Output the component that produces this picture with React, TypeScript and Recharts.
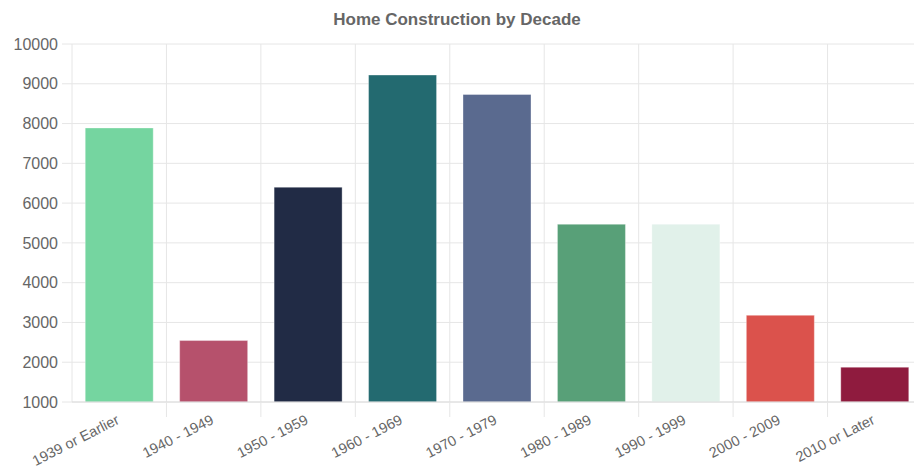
import { BarChart, Bar, XAxis, YAxis, CartesianGrid, Cell } from "recharts";

const decades = [
  "1939 or Earlier",
  "1940 - 1949",
  "1950 - 1959",
  "1960 - 1969",
  "1970 - 1979",
  "1980 - 1989",
  "1990 - 1999",
  "2000 - 2009",
  "2010 or Later",
];
const homesBuilt = [7890, 2545, 6400, 9220, 8730, 5470, 5470, 3180, 1875];
const barColors = [
  "#75d5a0",
  "#b6516c",
  "#212b45",
  "#236a70",
  "#5a6a8f",
  "#58a078",
  "#e1f1ea",
  "#db524c",
  "#8f1b3e",
];
const yTicks = [1000, 2000, 3000, 4000, 5000, 6000, 7000, 8000, 9000, 10000];

const CHART_W = 925;
const CHART_H = 468;
const MARGIN = { top: 44, right: 3, left: 0, bottom: 0 };
const Y_AXIS_W = 72;
const BAND = (CHART_W - MARGIN.left - MARGIN.right - Y_AXIS_W) / decades.length;
const GRID = "#e6e6e6";
const FONT = "'Liberation Sans', Arial, Helvetica, sans-serif";

const data = decades.map((decade, i) => ({ decade, homes: homesBuilt[i] }));

function DecadeTick(props: any) {
  const { x, y, payload, index } = props;
  const left = x - BAND / 2;
  const ax = x + 1;
  const ay = y + 21;
  return (
    <g>
      {index > 0 && <line x1={left} x2={left} y1={y} y2={y + 15} stroke={GRID} />}
      <text
        x={ax}
        y={ay}
        textAnchor="end"
        transform={`rotate(-27, ${ax}, ${ay})`}
        fill="#666"
        fontSize={14.5}
        fontFamily={FONT}
      >
        {payload.value}
      </text>
    </g>
  );
}

export default function App() {
  return (
    <div
      style={{
        position: "absolute",
        left: 0,
        top: 0,
        width: 914,
        height: 468,
        overflow: "hidden",
        background: "#fff",
      }}
    >
      <div
        style={{
          position: "absolute",
          top: 10,
          left: 0,
          width: 914,
          textAlign: "center",
          fontFamily: FONT,
          fontWeight: "bold",
          fontSize: 17,
          lineHeight: "20px",
          color: "#666",
        }}
      >
        Home Construction by Decade
      </div>
      <BarChart width={CHART_W} height={CHART_H} data={data} margin={MARGIN} barCategoryGap="14%">
        <CartesianGrid
          stroke={GRID}
          verticalCoordinatesGenerator={({ offset }: any) =>
            decades.map((_, i) => offset.left + i * BAND)
          }
        />
        <XAxis
          dataKey="decade"
          height={CHART_H - 402}
          interval={0}
          tickLine={false}
          tickSize={0}
          tickMargin={0}
          axisLine={{ stroke: "#dcdcdc" }}
          tick={<DecadeTick />}
        />
        <YAxis
          width={Y_AXIS_W}
          domain={[1000, 10000]}
          ticks={yTicks}
          allowDataOverflow
          tickSize={10}
          tickMargin={4}
          tickLine={{ stroke: GRID }}
          axisLine={false}
          tick={{ fill: "#666", fontSize: 16, fontFamily: FONT }}
        />
        <Bar dataKey="homes" isAnimationActive={false} stroke="rgba(255,255,255,0.35)" strokeWidth={1}>
          {data.map((d, i) => (
            <Cell key={d.decade} fill={barColors[i]} />
          ))}
        </Bar>
      </BarChart>
    </div>
  );
}
